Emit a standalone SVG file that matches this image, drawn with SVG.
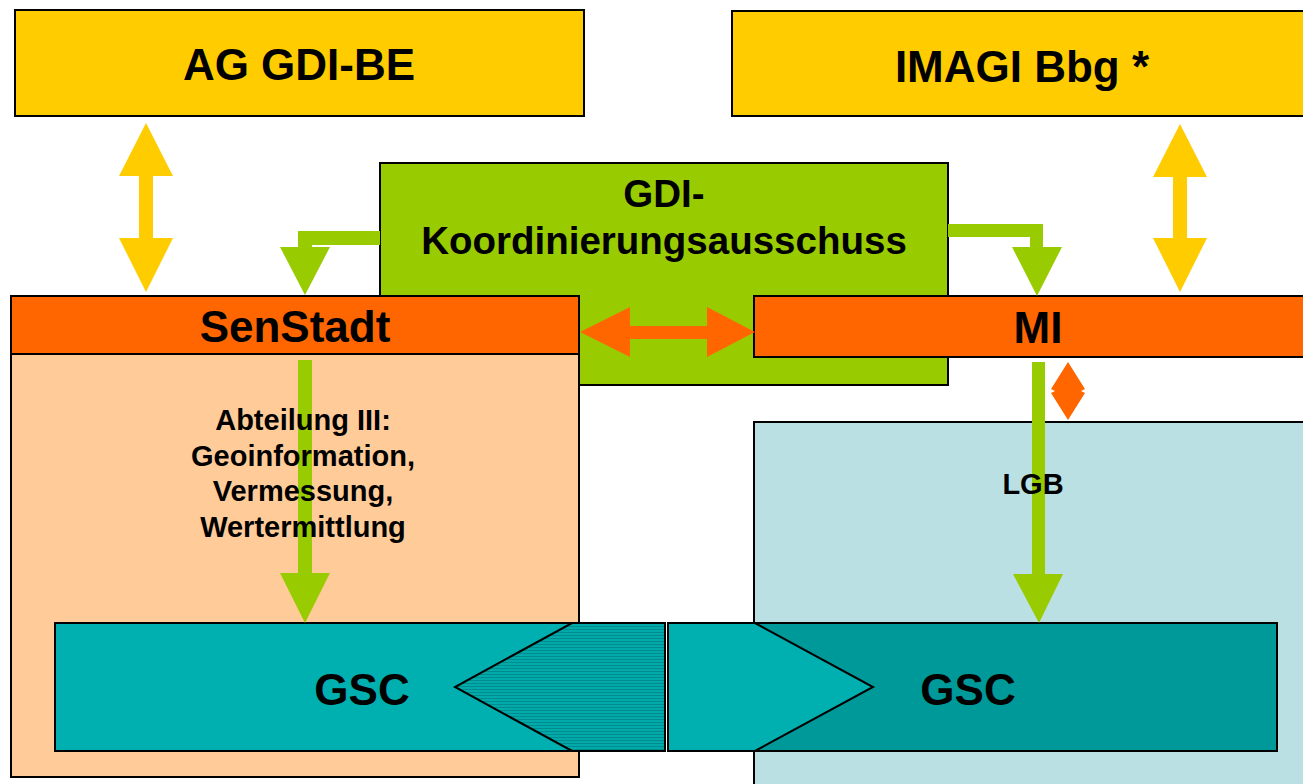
<svg xmlns="http://www.w3.org/2000/svg" width="1303" height="784" viewBox="0 0 1303 784">
<style>
.box{stroke:#000;stroke-width:2}
.t{font-family:"Liberation Sans",Arial,sans-serif;font-weight:bold;fill:#000;text-anchor:middle}
.big{font-size:44px}
.mid{font-size:38.5px}
.sm{font-size:29px}
.ye{fill:#FFCC00}
.gr{fill:#99CC00}
.or{fill:#FF6600}
</style>
<defs>
<pattern id="stripe" width="4" height="3" patternUnits="userSpaceOnUse">
<rect width="4" height="3" fill="#00AAAA"/>
<rect y="2" width="4" height="1" fill="#008C8C"/>
</pattern>
</defs>
<rect width="1303" height="784" fill="#fff"/>
<g id="ag-gdi-be"><rect class="box" x="15" y="10" width="569" height="106" fill="#FFCC00"/><text class="t big" x="299" y="80">AG GDI-BE</text></g>
<g id="imagi"><rect class="box" x="732" y="11" width="600" height="105" fill="#FFCC00"/><text class="t big" x="1022" y="82">IMAGI Bbg *</text></g>
<g id="gdi-koord"><rect class="box" x="380" y="163" width="568" height="222" fill="#99CC00"/><text class="t mid" x="664" y="207">GDI-</text><text class="t mid" x="664" y="254">Koordinierungsausschuss</text></g>
<g id="senstadt-area"><rect class="box" x="11" y="354" width="568" height="423" fill="#FFCC99"/></g>
<g id="lgb-area"><rect class="box" x="754" y="422" width="600" height="400" fill="#BBE0E3"/></g>
<g id="senstadt"><rect class="box" x="11" y="296" width="568" height="58" fill="#FF6600"/><text class="t big" x="295" y="342">SenStadt</text></g>
<g id="mi"><rect class="box" x="754" y="296" width="600" height="61" fill="#FF6600"/><text class="t big" x="1038" y="343">MI</text></g>
<g id="gsc-left"><rect class="box" x="55" y="623" width="610" height="128" fill="#00AFAF"/><text class="t big" x="362" y="705">GSC</text></g>
<g id="gsc-right"><rect class="box" x="668" y="623" width="609" height="128" fill="#009999"/><text class="t big" x="968" y="705">GSC</text></g>
<g id="connectors">
<polygon points="665,623 572,623 455,687 572,751 665,751" fill="url(#stripe)" stroke="#000" stroke-width="2"/>
<polygon points="668,623 755,623 873,687 755,751 668,751" fill="#00AFAF" stroke="#000" stroke-width="2"/>
<polygon class="ye" points="146,123 173,176 153,176 153,238 173,238 146,292 119,238 139,238 139,176 119,176"/>
<polygon class="ye" points="1180,124 1207,177 1187,177 1187,238 1207,238 1180,292 1153,238 1173,238 1173,177 1153,177"/>
<polygon class="gr" points="380,231 298,231 298,247 280,247 305,295 330,247 312,247 312,245 380,245"/>
<polygon class="gr" points="948,224 1043,224 1043,247 1062,247 1037,296 1012,247 1030,247 1030,237 948,237"/>
<polygon class="or" points="580,332 630,307 630,326 707,326 707,307 755,332 707,357 707,339 630,339 630,357"/>
<polygon class="gr" points="298,360 312,360 312,573 330,573 305,623 280,573 298,573"/>
<polygon class="gr" points="1032,362 1045,362 1045,574 1063,574 1039,623 1013,574 1032,574"/>
<polygon class="or" points="1068,362 1085,389 1081,391 1085,393 1068,420 1051,393 1055,391 1051,389"/>
</g>
<g id="labels">
<text class="t sm" x="303" y="430">Abteilung III:</text>
<text class="t sm" x="303" y="466">Geoinformation,</text>
<text class="t sm" x="303" y="501">Vermessung,</text>
<text class="t sm" x="303" y="537">Wertermittlung</text>
<text class="t sm" x="1033" y="494">LGB</text>
</g>
</svg>
